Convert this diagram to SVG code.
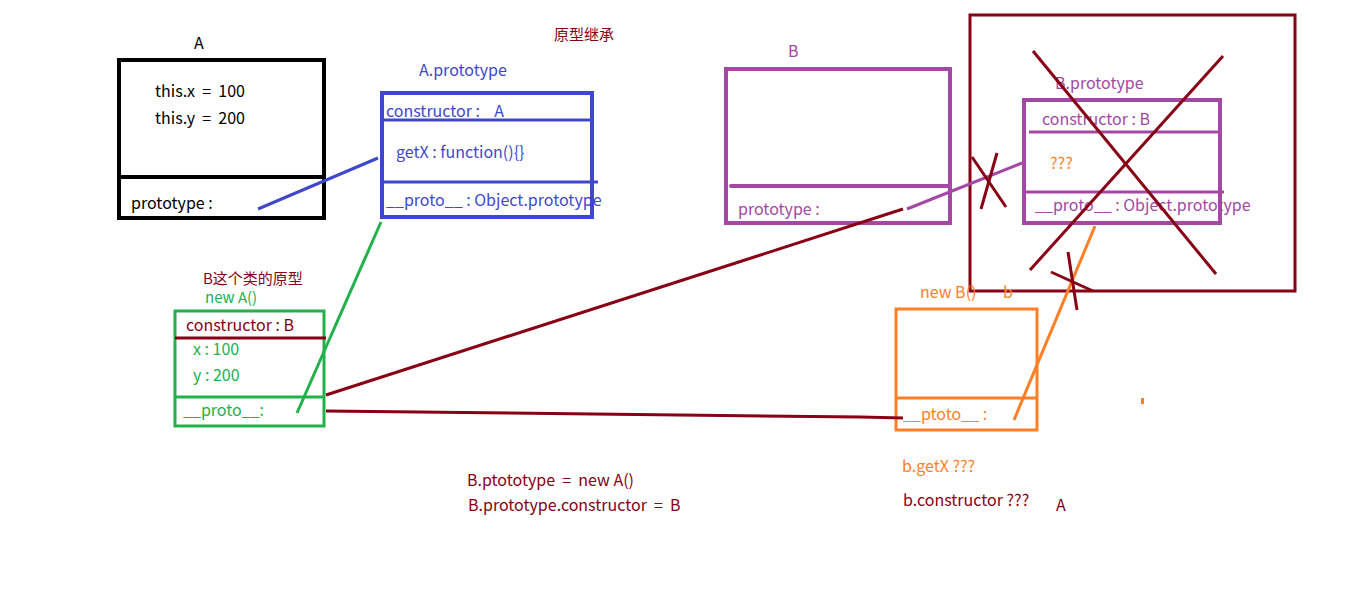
<svg xmlns="http://www.w3.org/2000/svg" width="1360" height="591" viewBox="0 0 1360 591">
<style>
text{font-family:"Noto Sans CJK SC","Noto Sans",sans-serif;font-size:16px;white-space:pre}
.k{fill:#000}.bl{fill:#3F48CC}.pu{fill:#A349A4}.dr{fill:#880015}.gr{fill:#22B14C}.or{fill:#FF7F27}
.sm{font-size:15px}
.box{fill:none}
</style>
<rect width="1360" height="591" fill="#fff"/>
<text class="dr sm" x="554" y="40">原型继承</text>
<g id="nodeA">
<text class="k" x="194" y="49">A</text>
<rect class="box" x="119" y="60" width="205" height="158" stroke="#000" stroke-width="4"/>
<line x1="119" y1="177" x2="326" y2="177" stroke="#000" stroke-width="4"/>
<text class="k" x="155" y="97">this.x  =  100</text>
<text class="k" x="155" y="124">this.y  =  200</text>
<text class="k" x="131" y="209">prototype :</text>
</g>
<g id="nodeAproto">
<text class="bl" x="419" y="76">A.prototype</text>
<rect class="box" x="382" y="93" width="210" height="124" stroke="#3F48CC" stroke-width="4"/>
<line x1="382" y1="120" x2="592" y2="120" stroke="#3F48CC" stroke-width="3"/>
<line x1="382" y1="182" x2="598" y2="182" stroke="#3F48CC" stroke-width="3"/>
<text class="bl" x="386" y="117">constructor :    A</text>
<text class="bl" x="396" y="158">getX : function(){}</text>
<text class="bl" x="386" y="206">__proto__ : Object.prototype</text>
</g>
<g id="nodeB">
<text class="pu" x="788" y="57">B</text>
<rect class="box" x="726" y="69" width="224" height="154" stroke="#A349A4" stroke-width="4"/>
<line x1="731" y1="186" x2="950" y2="186" stroke="#A349A4" stroke-width="4" stroke-linecap="round"/>
<text class="pu" x="738" y="215">prototype :</text>
</g>
<g id="nodeBproto">
<rect class="box" x="970" y="15" width="325" height="276" stroke="#880015" stroke-width="3"/>
<text class="pu" x="1055" y="89">B.prototype</text>
<rect class="box" x="1024" y="100" width="196" height="123" stroke="#A349A4" stroke-width="4"/>
<line x1="1029" y1="132" x2="1218" y2="132" stroke="#A349A4" stroke-width="3"/>
<line x1="1024" y1="192" x2="1224" y2="192" stroke="#A349A4" stroke-width="3"/>
<text class="pu" x="1042" y="125">constructor : B</text>
<text class="or" x="1050" y="169">???</text>
<text class="pu" x="1035" y="211">__proto__ : Object.prototype</text>
</g>
<g id="nodeNewA">
<text class="dr sm" x="203" y="284">B这个类的原型</text>
<text class="gr sm" x="205" y="303">new A()</text>
<rect class="box" x="175" y="311" width="149" height="115" stroke="#22B14C" stroke-width="3"/>
<line x1="175" y1="397" x2="324" y2="397" stroke="#22B14C" stroke-width="3"/>
<line x1="175" y1="338" x2="326" y2="338" stroke="#880015" stroke-width="3"/>
<text class="dr" x="186" y="331">constructor : B</text>
<text class="gr" x="193" y="355">x : 100</text>
<text class="gr" x="193" y="381">y : 200</text>
<text class="gr" x="183" y="416">__proto__:</text>
</g>
<g id="nodeNewB">
<text class="or" x="920" y="298">new B()</text>
<text class="or" x="1003" y="298">b</text>
<rect class="box" x="896" y="309" width="141" height="121" stroke="#FF7F27" stroke-width="3"/>
<line x1="896" y1="398" x2="1037" y2="398" stroke="#FF7F27" stroke-width="3"/>
<text class="or" x="903" y="420">__ptoto__ :</text>
<rect x="1141" y="398" width="3" height="6" fill="#FF7F27"/>
</g>
<g id="connectors" fill="none" stroke-width="3">
<line x1="258" y1="209" x2="378" y2="158" stroke="#3F48CC"/>
<line x1="297" y1="413" x2="381" y2="222" stroke="#22B14C"/>
<line x1="907" y1="209" x2="1022" y2="163" stroke="#A349A4"/>
<line x1="326" y1="395" x2="903" y2="209" stroke="#880015"/>
<polyline points="326,411 860,417 903,418" stroke="#880015"/>
<line x1="1014" y1="420" x2="1095" y2="226" stroke="#FF7F27"/>
<line x1="1033" y1="51" x2="1216" y2="274" stroke="#880015"/>
<line x1="1223" y1="56" x2="1030" y2="270" stroke="#880015"/>
<line x1="972" y1="157" x2="1006" y2="207" stroke="#880015"/>
<line x1="997" y1="153" x2="981" y2="209" stroke="#880015"/>
<line x1="1051" y1="272" x2="1093" y2="291" stroke="#880015"/>
<line x1="1068" y1="252" x2="1077" y2="310" stroke="#880015"/>
</g>
<g id="notes">
<text class="dr" x="467" y="486">B.ptototype  =  new A()</text>
<text class="dr" x="468" y="511">B.prototype.constructor  =  B</text>
<text class="or" x="902" y="472">b.getX ???</text>
<text class="dr" x="903" y="506">b.constructor ???</text>
<text class="dr" x="1056" y="511">A</text>
</g>
</svg>
